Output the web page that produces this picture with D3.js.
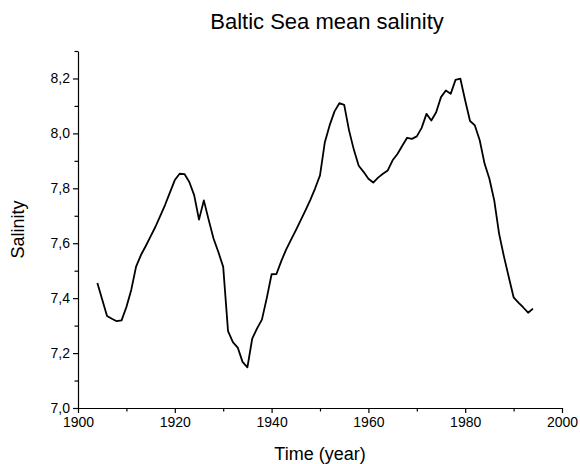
<!DOCTYPE html>
<html>
<head>
<meta charset="utf-8">
<script src="https://cdn.jsdelivr.net/npm/d3@7"></script>
<style>
  body { margin: 0; background: #fff; }
  text { font-family: "Liberation Sans", Arial, sans-serif; fill: #000; }
</style>
</head>
<body>
<div id="chart"></div>
<script>
// yearly mean salinity
var years = [1904,1905,1906,1907,1908,1909,1910,1911,1912,1913,1914,1915,1916,1917,1918,1919,
  1920,1921,1922,1923,1924,1925,1926,1927,1928,1929,1930,1931,1932,1933,1934,1935,1936,1937,1938,1939,
  1940,1941,1942,1943,1944,1945,1946,1947,1948,1949,1950,1951,1952,1953,1954,1955,1956,1957,1958,1959,
  1960,1961,1962,1963,1964,1965,1966,1967,1968,1969,1970,1971,1972,1973,1974,1975,1976,1977,1978,1979,
  1980,1981,1982,1983,1984,1985,1986,1987,1988,1989,1990,1991,1992,1993,1994];
var salinity = [7.455,7.395,7.335,7.325,7.316,7.319,7.368,7.43,7.515,7.557,7.59,7.625,7.66,7.70,7.74,7.785,
  7.83,7.853,7.852,7.823,7.775,7.686,7.756,7.685,7.617,7.568,7.514,7.28,7.24,7.22,7.168,7.148,7.253,7.29,7.322,7.40,
  7.487,7.488,7.535,7.577,7.612,7.647,7.683,7.72,7.758,7.80,7.847,7.968,8.03,8.08,8.11,8.104,8.011,7.94,7.882,7.86,
  7.835,7.821,7.839,7.853,7.865,7.902,7.925,7.955,7.984,7.98,7.989,8.02,8.071,8.047,8.077,8.132,8.156,8.144,8.195,8.199,
  8.12,8.045,8.029,7.975,7.89,7.835,7.756,7.635,7.552,7.477,7.403,7.384,7.366,7.347,7.362];

var xTicks = [1900,1920,1940,1960,1980,2000];
var xMinor = [1910,1930,1950,1970,1990];
var yTicks = [7.0,7.2,7.4,7.6,7.8,8.0,8.2];
var yMinor = [7.1,7.3,7.5,7.7,7.9,8.1,8.3];

var width = 580;
var height = 464;
var margin = { top: 51, right: 16, bottom: 56, left: 78 };

var svg = d3.select("#chart")
  .append("svg")
  .attr("width", width)
  .attr("height", height);

var xScale = d3.scaleLinear()
  .domain([1900, 2000])
  .range([margin.left, width - margin.right - 2]);

var yScale = d3.scaleLinear()
  .domain([7.0, 8.3])
  .range([height - margin.bottom, margin.top]);

var fmt = d => d.toFixed(1).replace(".", ",");

// minor ticks first, then major axis on top
svg.append("g")
  .attr("transform", "translate(0," + (height - margin.bottom) + ")")
  .call(d3.axisBottom(xScale).tickValues(xMinor).tickSize(3.5).tickSizeOuter(0).tickFormat(""))
  .call(g => g.select(".domain").remove());
svg.append("g")
  .attr("transform", "translate(" + margin.left + ",0)")
  .call(d3.axisLeft(yScale).tickValues(yMinor).tickSize(3.5).tickSizeOuter(0).tickFormat(""))
  .call(g => g.select(".domain").remove());

var xAxis = svg.append("g")
  .attr("transform", "translate(0," + (height - margin.bottom) + ")")
  .call(d3.axisBottom(xScale).tickValues(xTicks).tickSize(5).tickSizeOuter(0).tickFormat(d3.format("d")).tickPadding(4));

var yAxis = svg.append("g")
  .attr("transform", "translate(" + margin.left + ",0)")
  .call(d3.axisLeft(yScale).tickValues(yTicks).tickSize(5).tickSizeOuter(0).tickFormat(fmt).tickPadding(3));

svg.selectAll(".tick line").attr("stroke", "#000").attr("stroke-width", 1.2);
svg.selectAll(".domain").attr("stroke", "#000").attr("stroke-width", 1.2);
svg.selectAll(".tick text").style("font-size", "14px").style("font-family", "Liberation Sans, Arial, sans-serif").attr("fill", "#000");

// salinity line
var line = d3.line()
  .x((d, i) => xScale(years[i]))
  .y(d => yScale(d));

svg.append("path")
  .datum(salinity)
  .attr("d", line)
  .attr("fill", "none")
  .attr("stroke", "#000")
  .attr("stroke-width", 1.8)
  .attr("stroke-linejoin", "round");

// titles
svg.append("text")
  .attr("x", 327)
  .attr("y", 29)
  .attr("text-anchor", "middle")
  .style("font-size", "22px")
  .text("Baltic Sea mean salinity");

svg.append("text")
  .attr("x", (xScale.range()[0] + xScale.range()[1]) / 2)
  .attr("y", 460)
  .attr("text-anchor", "middle")
  .style("font-size", "18px")
  .text("Time (year)");

svg.append("text")
  .attr("transform", "translate(24," + ((yScale.range()[0] + yScale.range()[1]) / 2) + ") rotate(-90)")
  .attr("text-anchor", "middle")
  .style("font-size", "18px")
  .text("Salinity");
</script>
</body>
</html>
